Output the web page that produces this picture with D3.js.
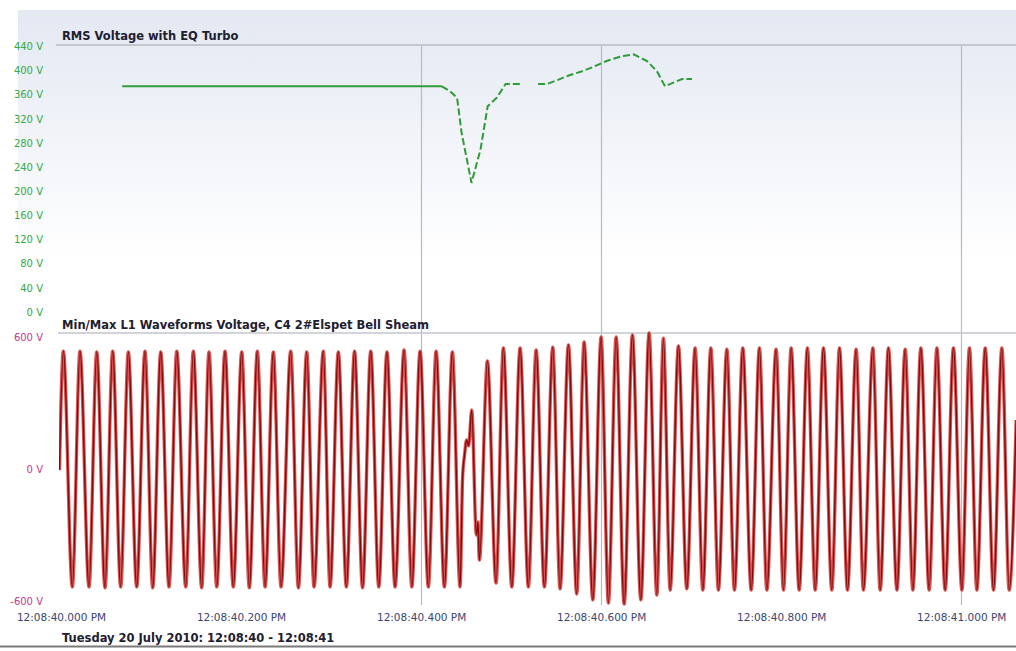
<!DOCTYPE html>
<html><head><meta charset="utf-8">
<script src="https://cdn.jsdelivr.net/npm/d3@7"></script>
<style>
html,body{margin:0;padding:0;background:#fff;}
svg{display:block;}
text{font-family:"DejaVu Sans",Verdana,sans-serif;}
</style></head>
<body>
<svg id="c" width="1016" height="651"></svg>
<script>
// ---------- data ----------
const topTitle = "RMS Voltage with EQ Turbo";
const bottomTitle = "Min/Max L1 Waveforms Voltage, C4 2#Elspet Bell Sheam";
const footerText = "Tuesday 20 July 2010: 12:08:40 - 12:08:41";

const topTicks = [0, 40, 80, 120, 160, 200, 240, 280, 320, 360, 400, 440];
const topTickLabels = ["0 V","40 V","80 V","120 V","160 V","200 V","240 V","280 V","320 V","360 V","400 V","440 V"];
const bottomTicks = [-600, 0, 600];
const bottomTickLabels = ["-600 V","0 V","600 V"];

// time in ms after 12:08:40.000
const timeTicks = [0, 200, 400, 600, 800, 1000];
const timeTickLabels = ["12:08:40.000 PM","12:08:40.200 PM","12:08:40.400 PM","12:08:40.600 PM","12:08:40.800 PM","12:08:41.000 PM"];
const gridTimes = [400, 600, 1000];

// RMS voltage (V) — steady, sag and swell segments
const rmsSteadyTime  = [68, 423];
const rmsSteadyVolts = [374, 374];
const rmsSagTime  = [423, 432, 440, 445, 451, 456, 466, 474, 484, 494, 510];
const rmsSagVolts = [374, 366, 355, 297, 252, 214, 269, 341, 355, 378, 378];
const rmsSwellTime  = [530, 540, 551, 564, 579, 591, 606, 623, 636, 651, 662, 671, 680, 690, 701];
const rmsSwellVolts = [378, 378, 384, 392, 399, 406, 416, 424, 427, 416, 399, 374, 380, 386, 386];

// L1 waveform extrema (ms, V)
const waveTime = [
 -1.7, 2.6, 12.6, 21.1, 31.1, 39.7, 48.9, 57.4, 66.3, 74.8, 84.1, 93.3, 101.9, 110.8, 120.0, 128.6,
 138.6, 147.0, 156.3, 164.4, 173.0, 182.2, 191.4, 200.8, 209.2, 218.1, 226.7, 235.9, 244.4, 255.2,
 263.7, 273.0, 281.1, 291.4, 298.9, 308.1, 317.0, 326.1, 335.0, 344.1, 353.0, 362.1, 371.1, 381.1,
 389.7, 398.9, 408.1, 416.7, 425.9, 434.8, 443.3,
 446.1, 448.3, 450.6, 452.8, 456.3, 461.4, 463.1, 464.8, 473.7,
 483.3, 491.4, 500.8, 510.0, 519.2, 527.8, 537.0, 546.3, 554.4, 563.7, 572.9, 581.1, 590.8, 600.0,
 608.1, 616.7, 625.6, 634.8, 644.1, 653.3, 661.9, 669.2, 676.7, 685.9, 695.2, 704.4, 713.0, 721.9,
 730.3, 739.7, 748.1, 757.4, 766.7, 775.9, 784.1, 794.4, 802.6, 811.1, 820.0, 829.2, 837.8, 847.0,
 856.3, 864.8, 873.7, 883.3, 891.4, 901.9, 910.0, 919.2, 928.6, 937.8, 946.3, 955.2, 964.4, 973.0,
 982.2, 991.4, 1000.8, 1009.2, 1017.4, 1026.7, 1035.9, 1045.2, 1053.3, 1061.1
];
const waveVolts = [
 -5, 536, -536, 536, -536, 532, -540, 536, -536, 532, -536, 536, -540, 532, -536, 536,
 -536, 536, -540, 532, -536, 536, -536, 532, -540, 536, -536, 532, -536, 536,
 -540, 532, -536, 536, -536, 532, -536, 536, -540, 536, -536, 532, -536, 541,
 -536, 536, -536, 536, -536, 532, -536,
 -41, 64, 132, 105, 268, -300, -241, -414, 491,
 -518, 550, -536, 550, -536, 541, -536, 554, -545, 564, -568, 577, -595, 600,
 -609, 600, -614, 609, -595, 618, -573, 595, -550, 559, -545, 550, -550, 550,
 -550, 545, -550, 550, -550, 550, -550, 545, -550, 550, -550, 550, -550, 550,
 -550, 550, -550, 545, -550, 550, -550, 550, -550, 545, -550, 550, -550, 550,
 -550, 550, -550, 550, -550, 550, -550, 550, -550, 223
];

// ---------- drawing ----------
const svg = d3.select("#c");
const W = 1016, H = 651;

const x = d3.scaleLinear().domain([-2, 1061]).range([59.2, 1016.1]);
const yTop = d3.scaleLinear().domain([0, 440]).range([312, 46.5]);
const yBot = d3.scaleLinear().domain([-600, 600]).range([601, 337]);

const defs = svg.append("defs");
const grad = defs.append("linearGradient").attr("id","bg").attr("x1",0).attr("x2",0).attr("y1",0).attr("y2",1);
grad.append("stop").attr("offset","0%").attr("stop-color","#e3e8f2");
grad.append("stop").attr("offset","100%").attr("stop-color","#ffffff");
defs.append("clipPath").attr("id","plotclip").append("rect")
  .attr("x", 59).attr("y", 330).attr("width", W-59).attr("height", 280);

svg.append("rect").attr("x",0).attr("y",0).attr("width",W).attr("height",H).attr("fill","#fff");
svg.append("rect").attr("x",18).attr("y",10).attr("width",W-18).attr("height",250).attr("fill","url(#bg)");

// grid lines
svg.append("g").selectAll("line").data(gridTimes).join("line")
  .attr("x1", d => Math.round(x(d))+0.5).attr("x2", d => Math.round(x(d))+0.5)
  .attr("y1", 45).attr("y2", 605)
  .attr("stroke", "#b9b9bf").attr("stroke-width", 1.2);

// title underlines
svg.append("line").attr("x1",56).attr("x2",W).attr("y1",45).attr("y2",45).attr("stroke","#c4c6cc").attr("stroke-width",2);
svg.append("line").attr("x1",58).attr("x2",W).attr("y1",333).attr("y2",333).attr("stroke","#c4c6cc").attr("stroke-width",1.5);
svg.append("line").attr("x1",0).attr("x2",W).attr("y1",646.5).attr("y2",646.5).attr("stroke","#7a7a7a").attr("stroke-width",2);

// titles
svg.append("text").attr("x",62).attr("y",39.5).attr("font-size",11.5).attr("font-weight","bold").attr("fill","#1d2030").text(topTitle);
svg.append("text").attr("x",62).attr("y",328.5).attr("font-size",11.5).attr("font-weight","bold").attr("fill","#1d2030").text(bottomTitle);
svg.append("text").attr("x",62).attr("y",642).attr("font-size",11.5).attr("font-weight","bold").attr("fill","#1d2030").text(footerText);

// axes
const gTop = svg.append("g").attr("transform","translate(46,0)")
  .call(d3.axisLeft(yTop).tickValues(topTicks).tickFormat((d,i)=>topTickLabels[i]).tickSize(0));
gTop.select(".domain").remove();
gTop.selectAll("text").attr("fill","#33aa4a").attr("font-size",10).attr("font-family","DejaVu Sans, sans-serif");

const gBot = svg.append("g").attr("transform","translate(46,0)")
  .call(d3.axisLeft(yBot).tickValues(bottomTicks).tickFormat((d,i)=>bottomTickLabels[i]).tickSize(0));
gBot.select(".domain").remove();
gBot.selectAll("text").attr("fill","#c03a95").attr("font-size",10).attr("font-family","DejaVu Sans, sans-serif");

const gX = svg.append("g").attr("transform","translate(0,611)")
  .call(d3.axisBottom(x).tickValues(timeTicks).tickFormat((d,i)=>timeTickLabels[i]).tickSize(0));
gX.select(".domain").remove();
gX.selectAll("text").attr("fill","#3a4570").attr("font-size",10.5).attr("font-family","DejaVu Sans, sans-serif");

// RMS line
const lineTop = d3.line().x(d => x(d[0])).y(d => yTop(d[1]));
const zip = (a,b) => a.map((v,i)=>[v,b[i]]);
svg.append("path").attr("d", lineTop(zip(rmsSteadyTime, rmsSteadyVolts)))
  .attr("fill","none").attr("stroke","#2f9a38").attr("stroke-width",2);
svg.append("path").attr("d", lineTop(zip(rmsSagTime, rmsSagVolts)))
  .attr("fill","none").attr("stroke","#2f9a38").attr("stroke-width",2).attr("stroke-dasharray","7,3");
svg.append("path").attr("d", lineTop(zip(rmsSwellTime, rmsSwellVolts)))
  .attr("fill","none").attr("stroke","#2f9a38").attr("stroke-width",2).attr("stroke-dasharray","7,3");

// waveform
const lineBot = d3.line().x(d => x(d[0])).y(d => yBot(d[1])).curve(d3.curveMonotoneX);
const wd = lineBot(zip(waveTime, waveVolts));
const gw = svg.append("g").attr("clip-path","url(#plotclip)");
gw.append("path").attr("d", wd).attr("fill","none").attr("stroke","#cc2a2a").attr("stroke-opacity",0.8).attr("stroke-width",3.4).attr("stroke-linejoin","round");
gw.append("path").attr("d", wd).attr("fill","none").attr("stroke","#860a0a").attr("stroke-width",1.4).attr("stroke-linejoin","round");
</script>
</body></html>
